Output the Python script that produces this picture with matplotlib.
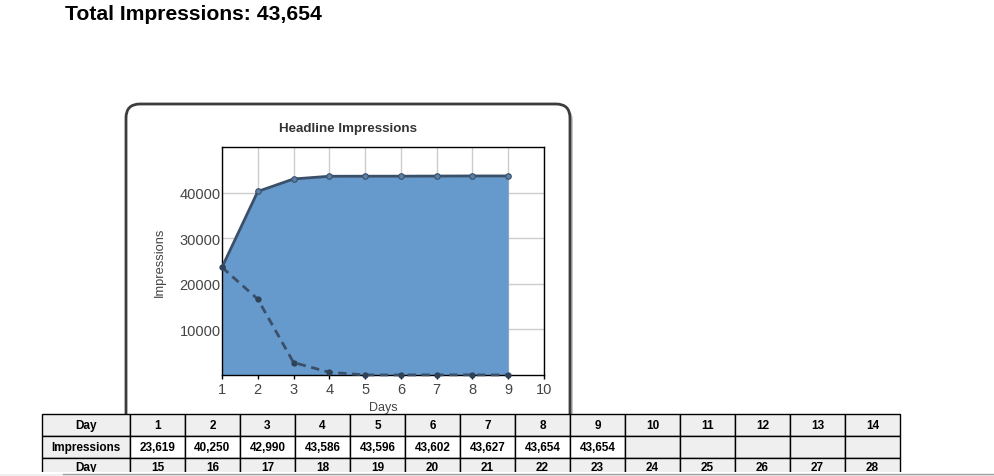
import matplotlib
matplotlib.use("Agg")
import matplotlib.pyplot as plt
from matplotlib.patches import FancyBboxPatch, Rectangle

plt.rcParams['font.family'] = ['Liberation Sans', 'DejaVu Sans']

# chart data
days = [1, 2, 3, 4, 5, 6, 7, 8, 9]
total_impressions = [23619, 40250, 42990, 43586, 43596, 43602, 43627, 43654, 43654]
daily_impressions = [23619, 16631, 2740, 596, 10, 6, 25, 27, 0]

# table data
table_days_top = [1, 2, 3, 4, 5, 6, 7, 8, 9, 10, 11, 12, 13, 14]
table_days_bottom = [15, 16, 17, 18, 19, 20, 21, 22, 23, 24, 25, 26, 27, 28]
table_values = ["23,619", "40,250", "42,990", "43,586", "43,596", "43,602",
                "43,627", "43,654", "43,654"]

W, H = 995, 477
fig = plt.figure(figsize=(W / 100, H / 100), dpi=100)

# background layer in pixel coordinates
bg = fig.add_axes([0, 0, 1, 1], zorder=0)
bg.set_xlim(0, W)
bg.set_ylim(H, 0)
bg.axis("off")

fig.text(65 / W, 1 - 14 / H, "Total Impressions: 43,654", fontsize=15.2,
         fontweight="bold", ha="left", va="center")

# rounded chart box with shadow
shadow = FancyBboxPatch((129, 108), 444, 400, boxstyle="round,pad=0,rounding_size=14",
                        fc="#9a9a9a", ec="none", alpha=0.55, zorder=1)
box = FancyBboxPatch((126, 105), 444, 400, boxstyle="round,pad=0,rounding_size=14",
                     fc="white", ec="#3c3c3c", lw=2, zorder=2)
bg.add_patch(shadow)
bg.add_patch(box)

fig.text(348 / W, 1 - 129 / H, "Headline Impressions", fontsize=9.6,
         fontweight="bold", color="#333333", ha="center", va="center")

# the chart
ax = fig.add_axes([222 / W, 1 - 376 / H, 322 / W, 228 / H], zorder=1)
ax.fill_between(days, total_impressions, color="#6699cc", zorder=2, lw=0)
ax.plot(days, total_impressions, color="#3b5068", lw=2, marker="o", ms=4,
        mfc="#5a80a8", mec="#3b5068", mew=0.8, zorder=3)
ax.plot(days, daily_impressions, color="#3b5068", lw=2, ls=(0, (3, 2)),
        marker="o", ms=3.5, mfc="#2f4258", mec="#2f4258", zorder=3, clip_on=False)
ax.set_xlim(1, 10)
ax.set_ylim(0, 50000)
ax.set_xticks(range(1, 11))
ax.set_yticks([10000, 20000, 30000, 40000])
ax.grid(True, color="#cccccc", lw=1, zorder=0)
ax.set_axisbelow(True)
for s in ax.spines.values():
    s.set_color("black")
    s.set_linewidth(1)
ax.tick_params(axis="x", length=3, width=1, pad=2, labelsize=10.5, labelcolor="#444444")
ax.tick_params(axis="y", length=0, pad=1, labelsize=10.5, labelcolor="#444444")
ax.set_xlabel("Days", fontsize=9, color="#444444", labelpad=4)
ax.set_ylabel("Impressions", fontsize=9.3, color="#444444", labelpad=10)

# table at the bottom
tb = fig.add_axes([0, 0, 1, 1], zorder=2)
tb.set_xlim(0, W)
tb.set_ylim(H, 0)
tb.axis("off")

col_x = [42, 130] + [130 + 55 * (i + 1) for i in range(14)]
row_y = [415, 437, 459, 481]
grey = "#efefef"
rows = [
    ["Day"] + [str(d) for d in table_days_top],
    ["Impressions"] + table_values + [""] * (14 - len(table_values)),
    ["Day"] + [str(d) for d in table_days_bottom],
]
for r, row in enumerate(rows):
    for c, txt in enumerate(row):
        x0, x1 = col_x[c], col_x[c + 1]
        y0, y1 = row_y[r], row_y[r + 1]
        fc = "white" if (r == 1 and c >= 1 and txt) else grey
        tb.add_patch(Rectangle((x0, y0), x1 - x0, y1 - y0, fc=fc, ec="black", lw=1, zorder=1))
        ty = (y0 + y1) / 2 + 0.5 if r < 2 else 468
        tb.text((x0 + x1) / 2, ty, txt, fontsize=8.5, fontweight="bold",
                ha="center", va="center", zorder=2)

# bottom edge / scrollbar strip
tb.add_patch(Rectangle((0, 473), W, 6, fc="white", ec="none", zorder=3))
tb.add_patch(Rectangle((0, 475), W, 4, fc="#f0f0f0", ec="none", zorder=4))
tb.plot([63, W], [475, 475], color="#a0a0a0", lw=1, zorder=5)

fig.savefig("out.png", dpi=100)
